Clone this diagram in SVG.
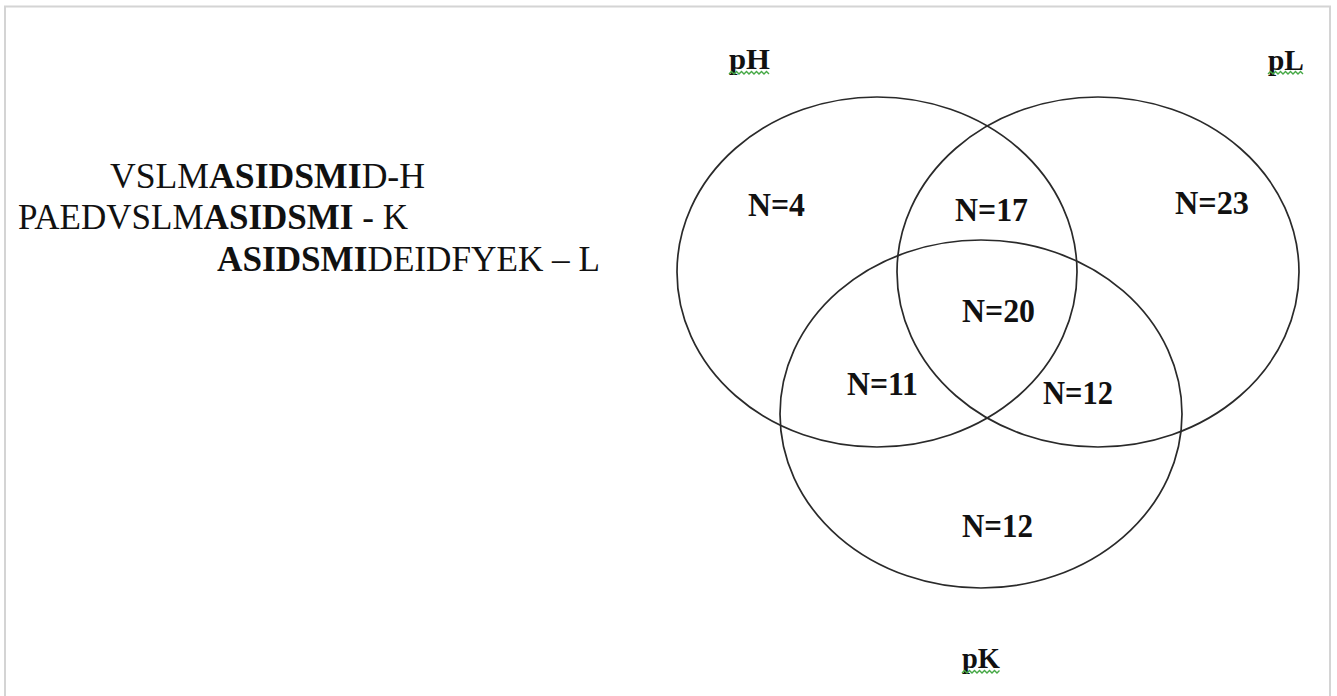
<svg xmlns="http://www.w3.org/2000/svg" width="1337" height="696" viewBox="0 0 1337 696">
  <style>
    .frame { fill: #ffffff; stroke: #d4d4d4; stroke-width: 2; }
    .set { fill: none; stroke: #2a2a2a; stroke-width: 1.7; }
    text { font-family: "Liberation Serif", "Times New Roman", "DejaVu Serif", serif; fill: #111; }
    .seq { font-size: 36px; }
    .b { font-weight: bold; }
    .count { font-size: 34px; font-weight: bold; }
    .setname { font-size: 30px; font-weight: bold; }
    .squiggle { fill: none; stroke: #45a845; stroke-width: 1.4; }
  </style>

  <rect class="frame" x="5" y="6.5" width="1325" height="700"/>

  <!-- peptide sequences; the shared core is set in bold -->
  <g id="sequences">
    <text class="seq" font-family="Liberation Serif, serif" x="110" y="188" textLength="315" lengthAdjust="spacingAndGlyphs">VSLM<tspan class="b">ASIDSMI</tspan>D-H</text>
    <text class="seq" font-family="Liberation Serif, serif" x="18" y="229" textLength="390" lengthAdjust="spacingAndGlyphs">PAEDVSLM<tspan class="b">ASIDSMI</tspan> - K</text>
    <text class="seq" font-family="Liberation Serif, serif" x="217" y="271" textLength="383" lengthAdjust="spacingAndGlyphs"><tspan class="b">ASIDSMI</tspan>DEIDFYEK – L</text>
  </g>

  <!-- three-set Venn diagram -->
  <g id="set-pH">
    <ellipse class="set" cx="877" cy="272" rx="200" ry="175"/>
    <text class="setname" x="729" y="69" textLength="41" lengthAdjust="spacingAndGlyphs">pH</text>
    <path class="squiggle" d="M729 74 l2.5 -2.5 l2.5 2.5 l2.5 -2.5 l2.5 2.5 l2.5 -2.5 l2.5 2.5 l2.5 -2.5 l2.5 2.5 l2.5 -2.5 l2.5 2.5 l2.5 -2.5 l2.5 2.5 l2.5 -2.5 l2.5 2.5 l2.5 -2.5 l2.5 2.5"/>
  </g>
  <g id="set-pL">
    <ellipse class="set" cx="1098" cy="272" rx="201" ry="175"/>
    <text class="setname" x="1268" y="70" textLength="36" lengthAdjust="spacingAndGlyphs">pL</text>
    <path class="squiggle" d="M1268 74 l2.5 -2.5 l2.5 2.5 l2.5 -2.5 l2.5 2.5 l2.5 -2.5 l2.5 2.5 l2.5 -2.5 l2.5 2.5 l2.5 -2.5 l2.5 2.5 l2.5 -2.5 l2.5 2.5 l2.5 -2.5 l2.5 2.5"/>
  </g>
  <g id="set-pK">
    <ellipse class="set" cx="981" cy="414" rx="201" ry="174"/>
    <text class="setname" x="962" y="668" textLength="38" lengthAdjust="spacingAndGlyphs">pK</text>
    <path class="squiggle" d="M962 673 l2.5 -2.5 l2.5 2.5 l2.5 -2.5 l2.5 2.5 l2.5 -2.5 l2.5 2.5 l2.5 -2.5 l2.5 2.5 l2.5 -2.5 l2.5 2.5 l2.5 -2.5 l2.5 2.5 l2.5 -2.5 l2.5 2.5 l2.5 -2.5"/>
  </g>

  <!-- region counts -->
  <g id="counts">
    <text class="count" x="748" y="216" textLength="57" lengthAdjust="spacingAndGlyphs">N=4</text>
    <text class="count" x="955" y="221" textLength="73" lengthAdjust="spacingAndGlyphs">N=17</text>
    <text class="count" x="1175" y="214" textLength="74" lengthAdjust="spacingAndGlyphs">N=23</text>
    <text class="count" x="962" y="322" textLength="73" lengthAdjust="spacingAndGlyphs">N=20</text>
    <text class="count" x="847" y="395" textLength="71" lengthAdjust="spacingAndGlyphs">N=11</text>
    <text class="count" x="1043" y="404" textLength="70" lengthAdjust="spacingAndGlyphs">N=12</text>
    <text class="count" x="962" y="537" textLength="71" lengthAdjust="spacingAndGlyphs">N=12</text>
  </g>
</svg>
